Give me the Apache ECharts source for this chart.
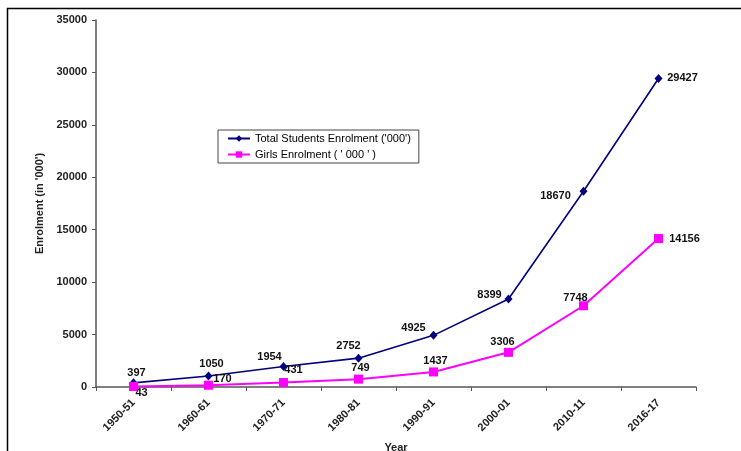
<!DOCTYPE html>
<html><head><meta charset="utf-8">
<script src="https://cdn.jsdelivr.net/npm/echarts@6/dist/echarts.min.js"></script>
<style>html,body{margin:0;padding:0;background:#fff}#c{width:741px;height:451px}</style>
</head><body><div id="c"></div>
<script>
// ---- data ----
const categories = ['1950-51','1960-61','1970-71','1980-81','1990-91','2000-01','2010-11','2016-17'];
const totalValues = [397,1050,1954,2752,4925,8399,18670,29427];
const girlsValues = [43,170,431,749,1437,3306,7748,14156];
const yTicks = [0,5000,10000,15000,20000,25000,30000,35000];

// ---- label layout (pixel offsets of each value label from its point) ----
const totalLabelOffsets = [[3,-10],[3,-12],[-14,-10],[-10,-12],[-20,-7],[-19,-4],[-28,5],[24,0]];
const girlsLabelOffsets = [[8,6],[14,-6],[10,-13],[2,-11],[2,-11],[-6,-10],[-8,-8],[26,0]];

const font = 'Arial, "Liberation Sans", sans-serif';
function withLabels(vals, offs){
  return vals.map((v,i)=>({value:v, label:{position:'inside', offset:offs[i]}}));
}
const chart = echarts.init(document.getElementById('c'));
chart.setOption({
  animation:false,
  backgroundColor:'#fff',
  graphic:[{type:'rect',shape:{x:7.5,y:8.5,width:900,height:600},style:{fill:'none',stroke:'#000',lineWidth:1.5},silent:true,z:100}],
  grid:{left:96,right:45,top:20,bottom:64,containLabel:false,outerBoundsMode:'none'},
  legend:{
    left:218, top:130, orient:'vertical', itemGap:5, itemWidth:22, itemHeight:8,
    backgroundColor:'#fff', borderColor:'#444', borderWidth:1, padding:[3,8,3,9], borderRadius:0,
    textStyle:{fontFamily:font,fontSize:11,color:'#000'},
    data:['Total Students Enrolment (\'000\')','Girls Enrolment ( \' 000 \' )']
  },
  xAxis:{
    type:'category', data:categories, boundaryGap:true,
    name:'Year', nameLocation:'middle', nameGap:55,
    nameTextStyle:{fontFamily:font,fontWeight:'bold',fontSize:11,color:'#222'},
    axisLine:{lineStyle:{color:'#555',width:1.5}},
    axisTick:{show:true,length:4,lineStyle:{color:'#555'}},
    axisLabel:{rotate:45,fontFamily:font,fontWeight:'bold',fontSize:11,color:'#222',margin:14}
  },
  yAxis:{
    type:'value', min:0, max:35000, interval:5000,
    name:'Enrolment (in \'000\')', nameLocation:'middle', nameGap:38,
    nameTextStyle:{fontFamily:font,fontWeight:'bold',fontSize:11,color:'#222'},
    axisLine:{show:true,lineStyle:{color:'#555',width:1.5}},
    axisTick:{show:true,length:4,lineStyle:{color:'#555'}},
    splitLine:{show:false},
    axisLabel:{fontFamily:font,fontWeight:'bold',fontSize:11,color:'#222',margin:9,
      formatter:v=>yTicks.includes(v)?String(v):''}
  },
  series:[
    {name:'Total Students Enrolment (\'000\')',type:'line',data:withLabels(totalValues,totalLabelOffsets),
     color:'#000080',symbol:'diamond',symbolSize:[8,9],lineStyle:{width:1.6,color:'#000080'},
     itemStyle:{color:'#000080'},
     label:{show:true,fontFamily:font,fontWeight:'bold',fontSize:11,color:'#111'},z:2},
    {name:'Girls Enrolment ( \' 000 \' )',type:'line',data:withLabels(girlsValues,girlsLabelOffsets),
     color:'#ff00ff',symbol:'rect',symbolSize:9,lineStyle:{width:2,color:'#ff00ff'},
     itemStyle:{color:'#ff00ff'},
     label:{show:true,fontFamily:font,fontWeight:'bold',fontSize:11,color:'#111'},z:3}
  ]
});
</script></body></html>
